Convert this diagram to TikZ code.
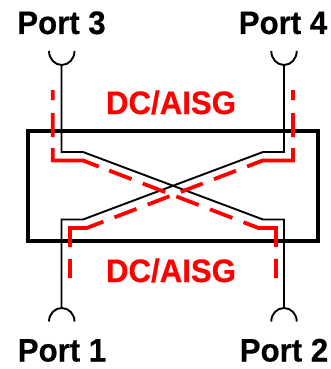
\documentclass[tikz,border=0pt]{standalone}
\usepackage{fontspec}
\setmainfont{Liberation Sans}[BoldFeatures={FakeBold=0.5,FakeStretch=0.96}]
\tikzset{
  x=1pt,y=-1pt,
  lbl/.style={anchor=base,inner sep=0pt,font=\fontsize{32.5}{33}\selectfont\bfseries},
  portlbl/.style={lbl,text=black},
  redlbl/.style={lbl,text=red},
  housing/.style={draw=black,line width=4.2pt,miter limit=10},
  sig/.style={draw=black,line width=1.9pt},
  cup/.style={draw=black,line width=1.9pt},
  dcpath/.style={draw=red,line width=3.8pt}
}
\begin{document}
\begin{tikzpicture}
\useasboundingbox (0,0) rectangle (331,369);
\node[portlbl] (p3) at (61.5,34) {Port 3};
\node[portlbl] (p4) at (283,34) {Port 4};
\node[portlbl] (p1) at (62,361.5) {Port 1};
\node[portlbl] (p2) at (284,361.5) {Port 2};
\node[redlbl] (dct) at (171,114) {DC/AISG};
\node[redlbl] (dcb) at (171,282) {DC/AISG};
\coordinate (t3) at (61.5,65);
\coordinate (t4) at (284,65);
\coordinate (t1) at (61.5,308);
\coordinate (t2) at (284,308);
% housing
\node[housing,minimum width=290pt,minimum height=110pt,inner sep=0pt] (box) at (173,186) {};
% signal paths
\draw[sig] (t3) -- (61.5,152) -- (83,152) -- (263,219.5) -- (284,219.5) -- (t2);
\draw[sig] (t4) -- (284,152) -- (263,152) -- (83,219.5) -- (61.5,219.5) -- (t1);
% cups
\draw[cup] (49,51) arc[start angle=180,end angle=360,x radius=12.75,y radius=-14];
\draw[cup] (271.25,51) arc[start angle=180,end angle=360,x radius=12.75,y radius=-14];
\draw[cup] (49,321.5) arc[start angle=180,end angle=360,x radius=12.75,y radius=13.5];
\draw[cup] (271.25,321.5) arc[start angle=180,end angle=360,x radius=12.75,y radius=13.5];
% DC paths
\coordinate (r3) at (52.8,90);
\coordinate (r4) at (293,90);
\coordinate (r1) at (70,278);
\coordinate (r2) at (276,278);
\draw[dcpath,dash pattern=on 10pt off 13pt on 24pt off 11pt on 59.7pt off 11pt on 24pt off 12pt on 24pt off 12pt on 24pt off 12pt on 24pt off 12pt on 52.4pt off 12pt on 30pt off 1pt] (r3) -- (52.8,160.5) -- (83,160.5) -- (258.5,228) -- (276,228) -- (r2);
\draw[dcpath,dash pattern=on 10pt off 13pt on 24pt off 11pt on 59.5pt off 12pt on 23.5pt off 12pt on 23.5pt off 12pt on 23.5pt off 12pt on 23.5pt off 12pt on 53.5pt off 12pt on 30pt off 1pt] (r4) -- (293,160.5) -- (262.7,160.5) -- (86.7,228) -- (70,228) -- (r1);
\end{tikzpicture}
\end{document}
